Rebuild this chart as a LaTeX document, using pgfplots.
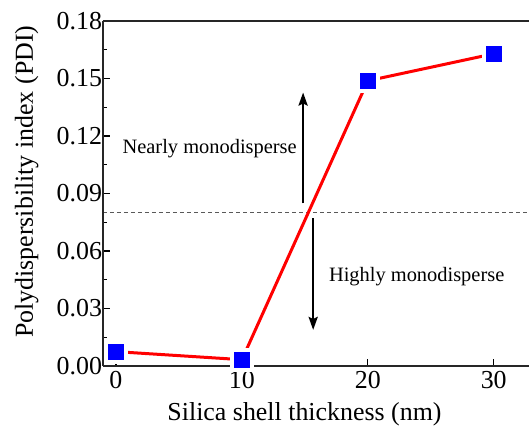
\documentclass[border=0pt]{standalone}
\usepackage{fontspec}
\setmainfont{Liberation Serif}
\usepackage{pgfplots}
\pgfplotsset{compat=1.18}
\usetikzlibrary{arrows.meta}
\begin{document}
\begin{tikzpicture}
\begin{axis}[
  at={(0,0)}, anchor=south west,
  scale only axis, width=426bp, height=345bp,
  xmin=-1.03, xmax=32.8, ymin=0, ymax=0.18,
  axis x line*=box, axis y line*=left,
  axis on top,
  clip=false,
  xtick pos=left, ytick pos=left,
  xtick={0,10,20,30},
  ytick={0,0.03,0.06,0.09,0.12,0.15,0.18},
  minor y tick num=1,
  major tick length=7bp, minor tick length=4bp,
  every tick/.style={black, line width=1.2bp},
  axis line style={line width=1.5bp, color=black!85, -},
  tick label style={font=\fontsize{26}{30}\selectfont, black},
  /pgf/number format/assume math mode=true,
  yticklabel style={/pgf/number format/fixed, /pgf/number format/fixed zerofill, /pgf/number format/precision=2, xshift=2.5bp},
  xticklabel style={yshift=-2bp},
]
\addplot[color=black!65, line width=1bp, dash pattern=on 4bp off 3bp] coordinates {(-1.03,0.08) (32.8,0.08)};
\addplot[red, line width=3bp] coordinates {(0,0.0075) (10,0.0033) (20,0.1488) (30,0.1629)};
\addplot[white, only marks, mark=square*, mark size=11.5bp, mark options={solid, fill=white, draw=white, line width=0pt}] coordinates {(0,0.0075) (10,0.0033) (20,0.1488) (30,0.1629)};
\addplot[blue, only marks, mark=square*, mark size=7.5bp, mark options={solid, fill=blue, draw=blue, line width=0pt}] coordinates {(0,0.0075) (10,0.0033) (20,0.1488) (30,0.1629)};
\addplot[black, line width=2.4bp, -{Stealth[length=13bp,width=9bp,inset=2bp]}] coordinates {(14.86,0.0849) (14.86,0.1427)};
\addplot[black, line width=2.4bp, -{Stealth[length=13bp,width=9bp,inset=2bp]}] coordinates {(15.66,0.0772) (15.66,0.0188)};
\node[font=\fontsize{20.5}{24}\selectfont, anchor=base] at (axis cs:7.44,0.111) {Nearly monodisperse};
\node[font=\fontsize{20.5}{24}\selectfont, anchor=base] at (axis cs:23.88,0.044) {Highly monodisperse};
\node[font=\fontsize{26}{30}\selectfont, anchor=base] at ([yshift=-54bp]rel axis cs:0.473,0) {Silica shell thickness (nm)};
\node[font=\fontsize{26}{30}\selectfont, rotate=90, anchor=base] at ([xshift=-70bp]rel axis cs:0,0.534) {Polydispersibility index (PDI)};
\end{axis}
\pgfresetboundingbox
\path[use as bounding box] (-103bp,-61bp) rectangle (426bp,366bp);
\end{tikzpicture}
\end{document}
